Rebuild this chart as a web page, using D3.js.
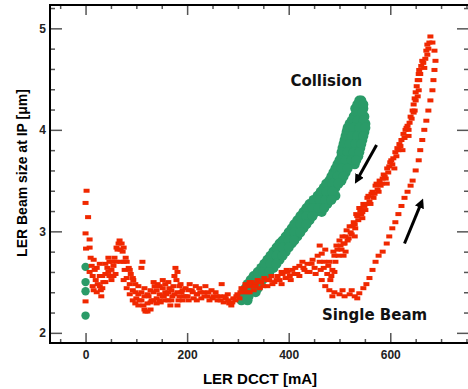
<!DOCTYPE html>
<html>
<head>
<meta charset="utf-8">
<script src="https://cdn.jsdelivr.net/npm/d3@7"></script>
<style>
  body { margin: 0; background: #fff; }
  svg { display: block; font-family: "Liberation Sans", Arial, sans-serif; }
</style>
</head>
<body>
<div id="chart"></div>
<script>
// axis ticks
const xTicks = [0, 200, 400, 600];
const xMinor = [-50, 50, 100, 150, 250, 300, 350, 450, 500, 550, 650, 700, 750];
const yTicks = [2, 3, 4, 5];
const yMinor = [2.2, 2.4, 2.6, 2.8, 3.2, 3.4, 3.6, 3.8, 4.2, 4.4, 4.6, 4.8, 5.2];

// single beam (red) -- [LER DCCT mA, beam size um]
const redStart = [[2,3.40],[0,3.28],[5,3.14],[0,2.98],[8,2.92],[1,2.83],[14,2.46],[0,2.31]];

const redFlat = [[8,2.84],[10,2.74],[12,2.66],[8,2.60],[14,2.56],[18,2.62],[20,2.52],[24,2.48],
  [28,2.56],[30,2.42],[31,2.36],[35,2.50],[39,2.58],[43,2.64],[47,2.70],[47,2.56],[51,2.62],
  [53,2.70],[57,2.74],[59,2.58],[63,2.82],[65,2.88],[67,2.91],[71,2.88],[73,2.80],[75,2.70],
  [77,2.62],[79,2.74],[81,2.54],[85,2.64],[87,2.48],[89,2.58],[93,2.42],[94,2.52],[98,2.40],
  [100,2.34],[104,2.46],[106,2.32],[110,2.40],[112,2.70],[114,2.27],[116,2.36],[118,2.21],
  [122,2.29],[124,2.36],[128,2.23],[130,2.32],[134,2.40],[136,2.46],[140,2.34],[142,2.48],
  [146,2.38],[148,2.30],[152,2.44],[154,2.36],[157,2.48],[159,2.38],[163,2.32],[165,2.44],
  [167,2.27],[171,2.36],[173,2.46],[177,2.64],[179,2.52],[181,2.40],[183,2.32],[187,2.48],
  [189,2.40],[193,2.36],[197,2.44],[201,2.36],[205,2.48],[209,2.42],[213,2.34],[217,2.46],
  [220,2.38],[224,2.44],[228,2.34],[232,2.40],[236,2.46],[240,2.36],[244,2.32],[248,2.42],
  [252,2.36],[256,2.40],[260,2.32],[264,2.36],[268,2.48],[272,2.30],[276,2.34],[280,2.38],
  [283,2.29],[287,2.27],[291,2.34],[295,2.32],[299,2.38],[303,2.34],[307,2.44],[311,2.40],
  [315,2.48],[319,2.40],[323,2.46],[327,2.50],[331,2.42],[335,2.48],[339,2.52],[343,2.44],
  [346,2.50],[352,2.54],[358,2.46],[362,2.52],[366,2.56],[372,2.50],[378,2.56],[382,2.52],
  [388,2.58],[394,2.54],[398,2.60],[402,2.56],[407,2.62],[413,2.64],[417,2.58],[421,2.66],
  [427,2.70],[431,2.62],[437,2.68],[441,2.60],[447,2.72],[451,2.64],[457,2.76]];

const redFlatB = [[16,2.72],[16,2.42],[22,2.64],[22,2.40],[28,2.46],[28,2.68],[33,2.56],[33,2.44],
  [39,2.50],[39,2.68],[45,2.60],[45,2.74],[51,2.52],[55,2.66],[55,2.56],[61,2.70],[61,2.84],
  [69,2.82],[69,2.70],[75,2.84],[75,2.52],[81,2.70],[81,2.44],[87,2.62],[87,2.38],[93,2.54],
  [93,2.32],[98,2.48],[98,2.29],[104,2.38],[104,2.27],[110,2.32],[110,2.64],[116,2.44],
  [116,2.23],[122,2.38],[122,2.21],[128,2.42],[128,2.30],[134,2.32],[134,2.50],[140,2.42],
  [140,2.29],[146,2.46],[146,2.32],[152,2.36],[152,2.52],[157,2.40],[157,2.32],[163,2.40],
  [163,2.50],[169,2.32],[169,2.42],[175,2.56],[175,2.38],[181,2.60],[181,2.27],[185,2.46],
  [185,2.36],[191,2.42],[191,2.32],[197,2.36],[203,2.42],[203,2.32],[211,2.40],[219,2.38],
  [219,2.32],[226,2.40],[234,2.36],[242,2.40],[250,2.34],[258,2.36],[266,2.32],[274,2.36],
  [281,2.32],[289,2.30],[297,2.36],[305,2.40],[313,2.44],[323,2.50],[323,2.40],[333,2.46],
  [343,2.50],[350,2.46],[358,2.52],[368,2.48],[376,2.52],[386,2.48],[386,2.60],[396,2.62],
  [404,2.52],[411,2.58],[421,2.56],[429,2.64],[437,2.60],[445,2.68],[453,2.58]];

// returning branch (upper red band)
const redUpper = [[461,2.86],[461,2.70],[465,2.78],[469,2.64],[472,2.82],[476,2.58],[480,2.70],
  [482,2.52],[486,2.62],[488,2.80],[490,2.60],[492,2.70],[494,2.86],[498,2.76],[500,2.91],
  [504,2.82],[506,2.95],[508,2.76],[510,2.88],[512,2.80],[514,3.01],[518,2.93],[520,3.05],
  [524,2.97],[528,3.09],[530,2.95],[531,3.03],[533,3.17],[537,3.11],[539,3.23],[543,3.17],
  [545,3.13],[547,3.27],[551,3.21],[555,3.33],[559,3.29],[561,3.27],[563,3.37],[567,3.33],
  [571,3.45],[575,3.41],[577,3.39],[579,3.50],[583,3.47],[587,3.56],[591,3.52],[593,3.47],
  [594,3.62],[598,3.64],[602,3.70],[606,3.72],[608,3.62],[610,3.78],[614,3.82],[618,3.86],
  [622,3.90],[624,3.80],[626,3.96],[630,4.00],[634,4.04],[636,3.94],[638,4.07],[640,4.13],
  [644,4.19],[646,4.25],[648,4.31],[648,4.19],[650,4.37],[652,4.43],[654,4.49],[656,4.55],
  [656,4.39],[657,4.59],[661,4.63],[665,4.66],[667,4.61],[669,4.70],[673,4.74],[675,4.80],
  [677,4.86],[679,4.92]];

const redUpperB = [[463,2.62],[470,2.70],[478,2.66],[484,2.56],[490,2.76],[496,2.82],[502,2.86],
  [508,2.88],[512,2.95],[516,2.91],[522,2.99],[526,3.05],[530,3.07],[535,3.15],[541,3.21],
  [545,3.19],[549,3.25],[553,3.27],[557,3.35],[565,3.39],[569,3.37],[573,3.47],[581,3.45],
  [585,3.52],[589,3.54],[596,3.58],[600,3.68],[604,3.66],[612,3.74],[616,3.80],[620,3.84],
  [628,3.92],[632,4.02],[636,4.00],[642,4.11],[646,4.17],[650,4.29],[654,4.33],[657,4.49],
  [659,4.55],[663,4.68],[671,4.78],[673,4.84]];

// rising branch (lower red dashes)
const redLower = [[465,2.52],[472,2.46],[480,2.42],[486,2.36],[490,2.40],[500,2.38],[506,2.42],
  [510,2.36],[520,2.38],[524,2.42],[530,2.36],[535,2.34],[539,2.39],[547,2.44],[553,2.48],
  [559,2.54],[565,2.62],[571,2.70],[577,2.76],[585,2.80],[593,2.88],[598,2.95],[604,3.03],
  [610,3.09],[616,3.17],[622,3.25],[628,3.33],[634,3.39],[640,3.45],[644,3.50],[650,3.60],
  [656,3.70],[659,3.80],[663,3.90],[667,4.00],[671,4.09],[675,4.19],[679,4.29],[683,4.39],
  [685,4.49],[687,4.59],[689,4.68],[687,4.78],[683,4.86]];

// collision (green)
const greenStart = [[0,2.65],[0,2.50],[0,2.41],[0,2.17]];

const greenBand = [[539,4.29],[543,4.29],[531,4.21],[541,4.21],[547,4.21],[528,4.13],[539,4.13],
  [549,4.13],[520,4.06],[531,4.06],[543,4.06],[551,4.06],[514,3.98],[526,3.98],[537,3.98],
  [549,3.98],[510,3.90],[522,3.90],[533,3.90],[545,3.90],[506,3.82],[518,3.82],[530,3.82],
  [541,3.82],[504,3.74],[516,3.74],[528,3.74],[537,3.74],[496,3.66],[508,3.66],[520,3.66],
  [530,3.66],[488,3.58],[500,3.58],[512,3.58],[480,3.50],[492,3.50],[504,3.50],[469,3.43],
  [480,3.43],[492,3.43],[457,3.35],[469,3.35],[480,3.35],[492,3.35],[441,3.27],[453,3.27],
  [465,3.27],[476,3.27],[429,3.19],[441,3.19],[453,3.19],[465,3.19],[417,3.11],[429,3.11],
  [441,3.11],[406,3.03],[417,3.03],[429,3.03],[394,2.95],[406,2.95],[417,2.95],[382,2.88],
  [394,2.88],[406,2.88],[370,2.80],[382,2.80],[394,2.80],[358,2.72],[370,2.72],[382,2.72],
  [346,2.64],[358,2.64],[370,2.64],[331,2.56],[343,2.56],[354,2.56],[319,2.48],[331,2.48],
  [343,2.48],[311,2.40],[323,2.40],[335,2.40],[307,2.32],[319,2.32]];

const greenBandB = [[535,4.25],[547,4.25],[533,4.17],[545,4.17],[524,4.09],[535,4.09],[547,4.09],
  [516,4.02],[528,4.02],[539,4.02],[551,4.02],[512,3.94],[524,3.94],[535,3.94],[547,3.94],
  [508,3.86],[520,3.86],[531,3.86],[543,3.86],[504,3.78],[516,3.78],[528,3.78],[539,3.78],
  [500,3.70],[512,3.70],[524,3.70],[533,3.70],[492,3.62],[504,3.62],[516,3.62],[484,3.54],
  [496,3.54],[508,3.54],[474,3.47],[486,3.47],[498,3.47],[463,3.39],[474,3.39],[486,3.39],
  [449,3.31],[461,3.31],[472,3.31],[484,3.31],[435,3.23],[447,3.23],[459,3.23],[470,3.23],
  [423,3.15],[435,3.15],[447,3.15],[411,3.07],[423,3.07],[435,3.07],[400,2.99],[411,2.99],
  [423,2.99],[388,2.91],[400,2.91],[411,2.91],[376,2.84],[388,2.84],[400,2.84],[364,2.76],
  [376,2.76],[388,2.76],[352,2.68],[364,2.68],[376,2.68],[339,2.60],[350,2.60],[362,2.60],
  [325,2.52],[337,2.52],[348,2.52],[315,2.44],[327,2.44],[339,2.44],[309,2.36],[321,2.36]];

// annotations
const arrows = [[[573,3.85],[535,3.51]], [[628,2.88],[661,3.28]]];
const labels = [["Collision", 474, 4.43], ["Single Beam", 569, 2.13]];

const width = 468, height = 389;
const svg = d3.select("#chart").append("svg")
  .attr("width", width).attr("height", height);

const x = d3.scaleLinear().domain([-70, 755]).range([50, 469]);
const y = d3.scaleLinear().domain([1.9, 5.23]).range([343, 5]);

svg.append("defs").append("marker")
  .attr("id", "head").attr("viewBox", "0 0 10 10")
  .attr("refX", 5).attr("refY", 5)
  .attr("markerWidth", 3.2).attr("markerHeight", 3.2)
  .attr("orient", "auto")
  .append("path").attr("d", "M0,0L10,5L0,10Z").attr("fill", "#000");

const green = "#2a9b68", red = "#f02800";

// green marks
svg.append("g").selectAll("circle")
  .data(greenStart.concat(greenBand, greenBandB))
  .enter().append("circle")
  .attr("cx", d => x(d[0]))
  .attr("cy", d => y(d[1]))
  .attr("r", d => d[0] === 0 ? 4.2 : 5)
  .attr("fill", green);

// red marks
svg.append("g").selectAll("rect")
  .data(redStart.concat(redFlat, redFlatB, redUpper, redUpperB, redLower))
  .enter().append("rect")
  .attr("x", d => x(d[0]) - 3)
  .attr("y", d => y(d[1]) - 2)
  .attr("width", 6)
  .attr("height", 4)
  .attr("fill", red);

// arrows
svg.append("g").selectAll("line")
  .data(arrows)
  .enter().append("line")
  .attr("x1", d => x(d[0][0])).attr("y1", d => y(d[0][1]))
  .attr("x2", d => x(d[1][0])).attr("y2", d => y(d[1][1]))
  .attr("stroke", "#000").attr("stroke-width", 3)
  .attr("marker-end", "url(#head)");

svg.append("g").selectAll("text")
  .data(labels)
  .enter().append("text")
  .attr("x", d => x(d[1])).attr("y", d => y(d[2]))
  .attr("text-anchor", "middle")
  .attr("font-family", "'DejaVu Sans', sans-serif")
  .attr("font-weight", "bold").attr("font-size", 15)
  .attr("fill", "#111")
  .text(d => d[0]);

// axes
function clean(g) {
  g.select(".domain").remove();
  g.selectAll("text").attr("font-size", 12).attr("font-weight", "bold").attr("fill", "#222");
}
const fmt = d3.format("d");
svg.append("g").attr("transform", "translate(0,343)")
  .call(d3.axisBottom(x).tickValues(xTicks).tickSize(-10).tickPadding(7).tickFormat(fmt)).call(clean);
svg.append("g").attr("transform", "translate(0,343)")
  .call(d3.axisBottom(x).tickValues(xMinor).tickSize(-4).tickFormat("")).call(clean);
svg.append("g").attr("transform", "translate(0,5)")
  .call(d3.axisTop(x).tickValues(xTicks).tickSize(-10).tickFormat("")).call(clean);
svg.append("g").attr("transform", "translate(0,5)")
  .call(d3.axisTop(x).tickValues(xMinor).tickSize(-4).tickFormat("")).call(clean);

svg.append("g").attr("transform", "translate(50,0)")
  .call(d3.axisLeft(y).tickValues(yTicks).tickSize(-12).tickPadding(4).tickFormat(fmt)).call(clean);
svg.append("g").attr("transform", "translate(50,0)")
  .call(d3.axisLeft(y).tickValues(yMinor).tickSize(-5).tickFormat("")).call(clean);
svg.append("g").attr("transform", "translate(469,0)")
  .call(d3.axisRight(y).tickValues(yTicks).tickSize(-12).tickFormat("")).call(clean);
svg.append("g").attr("transform", "translate(469,0)")
  .call(d3.axisRight(y).tickValues(yMinor).tickSize(-5).tickFormat("")).call(clean);

svg.selectAll(".tick line").attr("stroke", "#555").attr("stroke-width", 1.5);

// frame
svg.append("rect")
  .attr("x", 50).attr("y", 5).attr("width", 419).attr("height", 338)
  .attr("fill", "none").attr("stroke", "#000").attr("stroke-width", 2);

svg.append("text")
  .attr("x", 260).attr("y", 384)
  .attr("text-anchor", "middle")
  .attr("font-weight", "bold").attr("font-size", 15)
  .text("LER DCCT [mA]");

svg.append("text")
  .attr("transform", "translate(27,173) rotate(-90)")
  .attr("text-anchor", "middle")
  .attr("font-weight", "bold").attr("font-size", 14)
  .text("LER Beam size at IP [μm]");
</script>
</body>
</html>
